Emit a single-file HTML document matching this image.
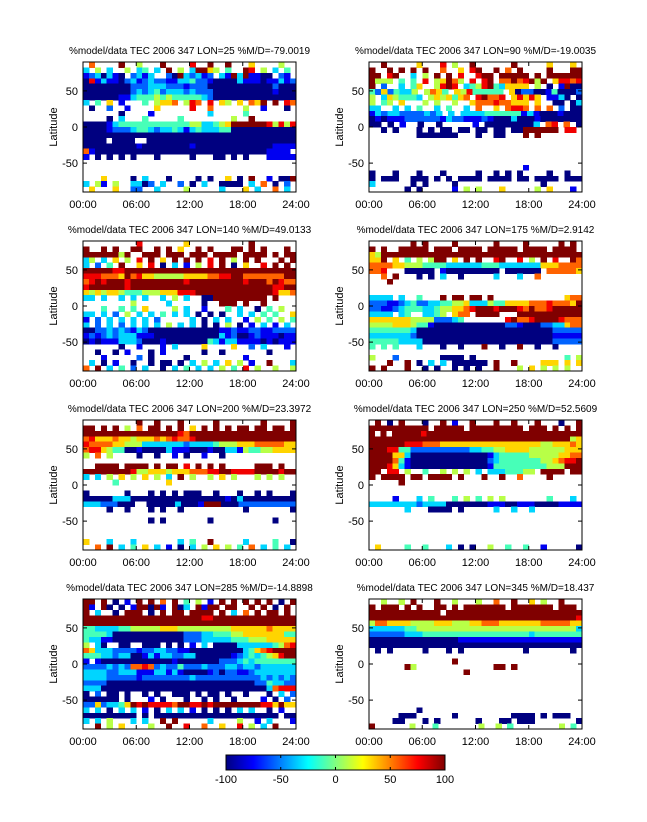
<!DOCTYPE html>
<html><head><meta charset="utf-8"><style>
html,body{margin:0;padding:0;background:#fff;}
svg{display:block;font-family:"Liberation Sans",sans-serif;}
</style></head><body>
<svg id="chart" width="647" height="822" viewBox="0 0 647 822" xmlns="http://www.w3.org/2000/svg"></svg>
<script>
// ---- data (codes 0..9 map -100..100, '.' = no data); rows from lat 90 down to -90 ----
const panelTitles = [
 "%model/data TEC 2006 347 LON=25 %M/D=-79.0019",
 "%model/data TEC 2006 347 LON=90 %M/D=-19.0035",
 "%model/data TEC 2006 347 LON=140 %M/D=49.0133",
 "%model/data TEC 2006 347 LON=175 %M/D=2.9142",
 "%model/data TEC 2006 347 LON=200 %M/D=23.3972",
 "%model/data TEC 2006 347 LON=250 %M/D=52.5609",
 "%model/data TEC 2006 347 LON=285 %M/D=-14.8898",
 "%model/data TEC 2006 347 LON=345 %M/D=18.437"
];
const xTickLabels = ["00:00","06:00","12:00","18:00","24:00"];
const xTickHours = [0,6,12,18,24];
const yTickValues = [50,0,-50];
const cbTickValues = [-100,-50,0,50,100];
const panel1 = [
".7....9..5...9....8..9..9...6....5..",
"3.5.3..5.34.3.9.5.39965.4..98.5.3.4.",
"1230310.2313..20932312.319391100.21.",
"081311023123221133422100003111011312",
"000000002223332221222000000000002000",
"000000002323423332322200000000001000",
"000000113444545444443200000000000000",
"3.4.6.1...4.5667.587.8.65.6.769.9.87",
".0..2..1....6.....8..7.....5..1...0.",
"......0....1.........3.....4........",
"....0.3...4.....4........5..9.......",
"000013444444444444553345699999985858",
"000012223443233431343334400000000000",
"000000000000000000000000000000000000",
"0000.0000..00000000000000000000000000",
"000000000100000000100000000000001111",
"71000000000000000000000000000001111.",
"1.0.0.0.0...0.....0...00.0.0...11111",
"....................................",
"....................................",
"....................................",
"...6....0.3...0....0.0..6.0.9..1.009",
"3.51.5..3302.3..2.0.3..0000.3.7.0.2.",
".6...6..22..3....5.....3...6.3..7.3."];
const panel2 = [
"..9.....6...8.5..9......9.....6...6.",
"9..9.9.9.9..7..6.89..9.7.9....9...99",
"99.89..3.5.9.9.8..899.99999.9.999999",
"9555.4.4.8.56975.8.89.77978959.68878",
"9.2..3.46..5898.34589436666.5.0.1900",
"42624335.5764.65844444.602200140002",
"5.3654443.5656467.89778.68686.1130.0",
"5.45.6...5.5..5..6777877666.6..00.03",
"33..3.3.4..3.4..3.7..6.7887.7.7.2.00",
"132332222323.3.33334444441310001000",
"010111222222132211121000300010000000",
"00.0.1..0..0.....1.000000003.78.7.0",
"..0.0...0.0.00.00.00.00.00999999.88.",
"........0000000...0..00...9.9.......",
"....................................",
"....................................",
"....................................",
"....................................",
"....................................",
"..........................1.........",
"0...0...0...0.....0..0.0.0....0..0..",
"0.000..000.0.0.0000.0000.00.0000.000",
"3......0.0....0..............0......",
"......0.0.....1.5.5...6.....5.6...1."];
const panel3 = [
".........8.......6..........9.......",
"9..9.9..99..9.9.6..9.9...99.9.9...9.",
"99999959..999.999.999.9999.9999.9.99",
"35.3.6.5.8.9.6.9.9.9.8.9.5.9.9...9.9",
"3.2.4.9..6.8.0.3.1.5.8.9.0.6..8.9.9.",
"999998899999999999999999999999999999",
"888777697866555556666778899777777799",
"789899989999999998999999999899979877",
"899999989999999999999999999999998899",
"656566544455566688899999999999998667",
"33.3..3.3.3..3.5.3..00999999999.9...",
"........5.....3.....0..999.9..9.....",
"...4..4.4.6....5.3..1...4.3..0.4.5..",
"33.3.2.5.3.3.4.3.3.0.0.0..3.3.4.4..6",
"1.2.3.3.3.3.2.....3.0.3.3..1.5.4.5.4",
"3.2.3.2.3.3.3.5.3.3.0.0.5.0.1.3.1.3.",
"002232321320000000000001121122112222",
"121232333111000000000003120012111011",
"010111333200010000000431331111010111",
"......0..1...1.3....6....6..2.3...1.",
"..0..0.1...0.1......0..0.......0....",
"...1.....2.0.....0.........1........",
".3.0.1..0..0.00.0.3.5.3.6.5.1..9...3",
"7.9.3.4.2.3..0.3.4.3.3.5.4.8.5..5..5"];
const panel4 = [
".......9.9....9......9....9.....9.9.",
"9.9..99999.999.9999.99999.9999.9999.",
"659999999999999999999999999999999999",
"669.6.4.5.599.6.9.9..89..8.5.9.8..97",
"777766555444433333344433333336667777",
"778...00000.1000000000.000000.777776",
"..7.9...0.0.3..0.....3...3..7.......",
"...9................................",
"....................................",
"....................................",
"3333.3..4...9.99.99.9............677",
"222112342233445563335446666777877769",
"221123444334556678999899987977899999",
"3333.34..3345.677.9999...99999999999",
"6666666555522234.......8977899998777",
"555566654410000000000002210002233677",
"444444430000000000000000000000022222",
"333333320000000000000000000000011111",
"444443333000000000000000000000022222",
"4.4.4...3...0..0...9..0..9..0..0....",
"....................................",
"5...2.......0000.0...............4.5",
"...9..9.0.3.3.000000.9..9....666.6.6",
"9.9...9..0.0..0.0.0..9...5.6.5.5.5.."];
const panel5 = [
".........9..9...9.....9.......9....9",
"99.9.9.5.7.99.9.9.6.9.9.9.99.99.99.9",
"999999999999999987999999999999999999",
"786667665666767877899999999999999999",
"877776655533333332333345556667777766",
"788654400100003111000100331544556666",
"5.7.5....0..0..1.0..1..0............",
"....................................",
"..9999.9999.9.99.8.9.9.9.....999.9..",
"999999998556665666777889988889999899",
"3.3.5.6.5.6.5.3.9.5..5.6.5...5.5.5..",
".....4........6.....................",
"....................................",
"0......0...0.0.0.000..0...0..0.0...0",
"000003330000000000000000103000000000",
"333222000..00000300019990002222222222",
"....0..0...0.0..0..........0.......0",
"....................................",
"...........0.0.......0..........0...",
"....................................",
"....................................",
"....................................",
"6...3...3.......3.4..9.....3....4..0",
"..7.9.3.4.6.3.1.0.3.5.6.5.4.7.3.4.3."];
const panel6 = [
".9.0.9...0..9.1..9...9..9...9...0..9",
"9999999999.99999.999999999.999.9.9.9",
"9.9.999998999999999999999999999999999",
"999999999999999999999999999999999956",
"999999888777666666666666666665566676",
"999884422222222223344556666555555666",
"999966300000000000001344444555556677",
"999974100000000000002344444445567889",
"999863100000000000001444444444555999",
"99.88.5..4..5.5.5.3.33344455.9999.99",
"9.9999.99.9999.9...9..9..7....9.....",
".....9..............................",
"....................................",
"....................................",
"....1...3.4...4.5.4.5.5.......4...3.",
"333333332333300000001110011100001111",
"......3...0000.0.....3..3..3........",
"....................................",
"....................................",
"....................................",
"....................................",
"....................................",
"....................................",
".6....4..4...3.0.0..5..4..4..1.....0"];
const panel7 = [
"99.9.0.1.9.9.7.9.4.5.1.9.9.9.9.9.0.9",
"91.90.0.199091.903.9199.99..9.9.0.9.",
"9.3..0.999.0.9.99.9999.9.3.7.9.99.9.",
"999999999999999999998899999999999999",
"999999999999999999999999999999999999",
"443333445555566655555555566666676666",
"444430000000000002223344455666666644",
"433110000000000002223333344455566666",
"5.30..00..000.0.0.1.3.00003333334578",
"763332222122332211000000000346789999",
"444332330013133223300000012343456899",
"1.1000000000000100000002223434444444",
"222232327787232242223222332332333333",
"333322333111331310000120221123333333",
"333322222122222222322222222222323232",
"222200000000000000000000000002243322",
"333000000000000000000000000000037888",
"0.2.00.0..0.0..000.0.00.0..0...0.3.2",
"000000.0...1.0...0..0.0..0....1.0.2.",
"226233469898888799889899999999886966",
"3.3.0.3.3.1.0.3.3.1.0.0.0.3.3..0.1..",
"000000000.0.000000000000000000000.00",
"3.3.5...3.3..9.9.....3....5..1.3...1",
"..9.5.6....5..9..8..7..6..8.5.3.9..."];
const panel8 = [
"..5..5.9...9..5...5..7..9..6.5..9...",
"9.999.9.9..99.9.9999999.9999999.999.",
"999999999999.99999999999999999999999",
"999999999999999999999999999999999998",
"577666655556665556677766666667777766",
"333333445555555555555555555555555553",
"222222333444444444444444444344444444",
"000000000000000111111111111111111111",
"000000000000000000000000000000000000",
".0.0.....0...0.0..........0.......0.",
"....................................",
"..............9.....................",
"......95.............99.9...........",
"................9...................",
"....................................",
"....................................",
"....................................",
"....................................",
"....................................",
"....................................",
"........0...........................",
".....000......0.........0000.0.000..",
"....00...0.0......0...00.000.......0",
"9......5...4.......5..5.4........5.4."];
const panelData = [panel1,panel2,panel3,panel4,panel5,panel6,panel7,panel8];

// ---- layout ----
const NS="http://www.w3.org/2000/svg";
const svg=document.getElementById('chart');
const colX=[83,369], rowY=[62,241,420,599], PW=213, PH=130;
function jet(t){t=Math.max(0,Math.min(1,t));
 const c=x=>Math.round(255*Math.max(0,Math.min(1,x)));
 return `rgb(${c(1.5-Math.abs(4*t-3))},${c(1.5-Math.abs(4*t-2))},${c(1.5-Math.abs(4*t-1))})`;}
function codeToValue(ch){return -100+(+ch)*200/9;}
function mk(tag,attrs,parent){const e=document.createElementNS(NS,tag);for(const k in attrs)e.setAttribute(k,attrs[k]);(parent||svg).appendChild(e);return e;}

panelData.forEach((rows,p)=>{
 const x0=colX[p%2], y0=rowY[Math.floor(p/2)];
 const g=mk('g',{});
 
 
 const xS=h=>x0+h/24*PW;
 const yS=lat=>y0+(90-lat)/180*PH;
 const cells=mk('g',{'shape-rendering':'crispEdges'},g);
 
 
 const nR=rows.length;
 rows.forEach((row,r)=>{
  const n=row.length;
  const latTop=90-r*180/nR, latBot=90-(r+1)*180/nR;
  for(let c=0;c<n;c++){
   const ch=row[c]; if(ch==='.'||ch===' ')continue;
   const v=codeToValue(ch);
   const xa=xS(c*24/n), xb=xS((c+1)*24/n);
   const rc=mk('rect',{x:xa.toFixed(2),y:yS(latTop).toFixed(2),width:(xb-xa+0.4).toFixed(2),height:(yS(latBot)-yS(latTop)+0.4).toFixed(2),fill:jet((v+100)/200)},cells);
   
   
  }
 });
 const box=mk('rect',{x:x0,y:y0,width:PW,height:PH,fill:'none',stroke:'#000','stroke-width':1},g);
 
 
 yTickValues.forEach(v=>{
  const y=yS(v);
  mk('line',{x1:x0,x2:x0+4,y1:y,y2:y,stroke:'#000'},g);
  mk('line',{x1:x0+PW,x2:x0+PW-4,y1:y,y2:y,stroke:'#000'},g);
  const t=mk('text',{x:x0-5,y:y+4,'text-anchor':'end','font-size':11},g);
  t.textContent=v;
  
  
 });
 xTickHours.forEach((h,i)=>{
  const x=xS(h);
  mk('line',{x1:x,x2:x,y1:y0+PH,y2:y0+PH-4,stroke:'#000'},g);
  mk('line',{x1:x,x2:x,y1:y0,y2:y0+4,stroke:'#000'},g);
  const t=mk('text',{x:x,y:y0+PH+16,'text-anchor':'middle','font-size':11},g);
  t.textContent=xTickLabels[i];
  
  
 });
 const yl=mk('text',{x:0,y:0,'text-anchor':'middle','font-size':11,transform:`translate(${x0-26},${y0+PH/2}) rotate(-90)`},g);
 yl.textContent='Latitude';
 
 
 const tt=mk('text',{x:x0+PW/2,y:y0-8,'text-anchor':'middle','font-size':10},g);
 tt.textContent=panelTitles[p];
 
 
});

// ---- colorbar ----
const cbX=226, cbY=755, cbW=219, cbH=15;
const defs=mk('defs',{});
const grad=mk('linearGradient',{id:'jetg',x1:0,x2:1,y1:0,y2:0},defs);
for(let i=0;i<=32;i++)mk('stop',{offset:(i/32),'stop-color':jet(i/32)},grad);
const cb=mk('rect',{x:cbX,y:cbY,width:cbW,height:cbH,fill:'url(#jetg)',stroke:'#000'});


cbTickValues.forEach(v=>{
 const x=cbX+(v+100)/200*cbW;
 mk('line',{x1:x,x2:x,y1:cbY,y2:cbY+3,stroke:'#000'});
 mk('line',{x1:x,x2:x,y1:cbY+cbH,y2:cbY+cbH-3,stroke:'#000'});
 const t=mk('text',{x:x,y:cbY+cbH+13,'text-anchor':'middle','font-size':11});
 t.textContent=v;
 
 
});
</script>
</body></html>
